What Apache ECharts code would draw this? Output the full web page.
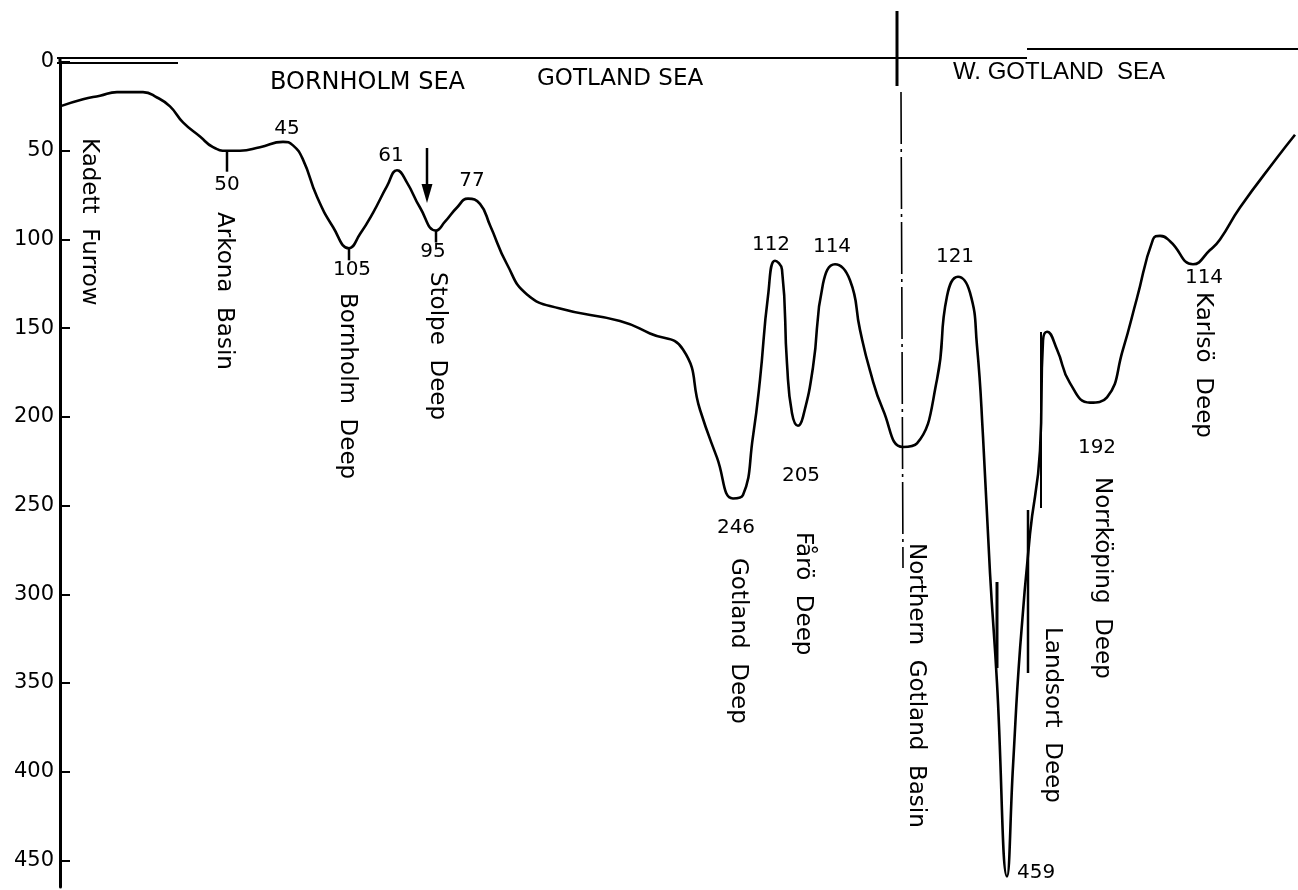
<!DOCTYPE html>
<html>
<head>
<meta charset="utf-8">
<title>Depth profile of the Baltic Proper</title>
<script src="https://cdn.jsdelivr.net/npm/echarts@6/dist/echarts.min.js"></script>
<style>
  html, body { margin: 0; padding: 0; background: #fff; }
  #chart { width: 1298px; height: 890px; }
</style>
</head>
<body>
<div id="chart"></div>
<script>
// Section from the Kadett Furrow to the Western Gotland Sea.
// distance: position along the section (arbitrary units), depth: metres.
const distance = [0, 23, 40, 57, 83, 97, 110, 123, 140, 153, 167, 180, 200, 223, 233, 243, 257, 273, 289, 300,
  313, 327, 337, 347, 360, 376, 385, 397, 408, 420, 430, 447, 467, 500, 560, 590, 623, 640, 657, 673,
  683, 693, 700, 708, 715, 722, 727, 732, 738, 743, 753, 763, 775, 790, 800, 810, 823, 843, 857, 877,
  887, 898, 910, 917, 923, 930, 937, 947, 953, 960, 970, 980, 983, 987, 997, 1010, 1030, 1047, 1063, 1077,
  1093, 1100, 1110, 1133, 1150, 1160, 1180, 1217, 1235];
const depth = [25, 21, 19, 17, 17, 20, 25, 34, 42, 48, 50, 50, 48, 45, 47, 55, 76, 93, 105, 97,
  85, 70, 61, 68, 82, 95, 90, 82, 77, 80, 92, 114, 131, 139, 146, 153, 162, 196, 223, 246,
  244, 211, 179, 132, 112, 117, 170, 198, 205, 200, 172, 125, 114, 123, 151, 174, 196, 217, 215, 179,
  132, 121, 130, 160, 211, 288, 350, 459, 397, 331, 266, 219, 157, 152, 162, 181, 192, 189, 162, 133,
  100, 98, 101, 114, 106, 100, 82, 54, 41];

// Sill and deep soundings whose depth is printed on the profile
const soundingAt = [167, 223, 289, 337, 376, 408, 673, 715, 738, 775, 898, 947, 1030, 1133];

// Depth axis ticks (m)
const depthTicks = [0, 50, 100, 150, 200, 250, 300, 350, 400, 450];

// Basin and deep names, written down the profile
const basinNames = ['Kadett  Furrow', 'Arkona  Basin', 'Bornholm  Deep', 'Stolpe  Deep', 'Gotland  Deep',
  'Fårö  Deep', 'Northern  Gotland  Basin', 'Landsort  Deep', 'Norrköping  Deep', 'Karlsö  Deep'];

// Sea areas along the top
const seaNames = ['BORNHOLM SEA', 'GOTLAND SEA', 'W. GOTLAND  SEA'];

const TEXT_FONT = '"DejaVu Sans", sans-serif';

// label placement for the printed soundings
const soundingLabel = {
  167: { position: 'bottom', distance: 24, offset: [0, 0] },
  223: { position: 'top', distance: 3, offset: [4, 0] },
  289: { position: 'bottom', distance: 12, offset: [3, 0] },
  337: { position: 'top', distance: 4, offset: [-6, 0] },
  376: { position: 'bottom', distance: 11, offset: [-3, 0] },
  408: { position: 'top', distance: 8, offset: [4, 0] },
  673: { position: 'bottom', distance: 19, offset: [3, 0] },
  715: { position: 'top', distance: 6, offset: [-4, 0] },
  738: { position: 'bottom', distance: 40, offset: [3, 0] },
  775: { position: 'top', distance: 7, offset: [-3, 0] },
  898: { position: 'top', distance: 10, offset: [-3, 0] },
  947: { position: 'right', distance: 10, offset: [0, -4] },
  1030: { position: 'bottom', distance: 35, offset: [7, 0] },
  1133: { position: 'bottom', distance: 4, offset: [11, 0] }
};

const profile = distance.map((d, i) => [d, depth[i]]);
const soundings = soundingAt.map(d => {
  const p = soundingLabel[d];
  return {
    value: [d, depth[distance.indexOf(d)]],
    label: { position: p.position, distance: p.distance, offset: p.offset }
  };
});

const chart = echarts.init(document.getElementById('chart'), null, { renderer: 'canvas' });

chart.setOption({
  animation: false,
  backgroundColor: '#fff',
  grid: { left: 60, right: 0, top: 62, bottom: 3 },
  xAxis: { type: 'value', min: 0, max: 1238, show: false },
  yAxis: {
    type: 'value', inverse: true, min: 0, max: 465, interval: 50,
    axisLine: { show: true, lineStyle: { color: '#000', width: 3 } },
    axisTick: { show: true, inside: true, length: 10, customValues: depthTicks,
      lineStyle: { color: '#000', width: 2 } },
    axisLabel: { color: '#000', fontSize: 21, fontFamily: TEXT_FONT, margin: 6, customValues: depthTicks },
    splitLine: { show: false }
  },
  series: [
    {
      type: 'line', data: profile, showSymbol: false, silent: true,
      smooth: 0.5,
      lineStyle: { color: '#000', width: 2.6 }
    },
    {
      type: 'scatter', data: soundings, symbolSize: 0, silent: true,
      itemStyle: { opacity: 1 },
      label: { show: true, color: '#000', fontSize: 20, fontFamily: TEXT_FONT,
        formatter: p => String(p.value[1]) }
    }
  ]
});

// decorations: frame lines, section divider, pointers and names
const px = (d, z) => chart.convertToPixel({ gridIndex: 0 }, [d, z]);
const line = (x1, y1, x2, y2, w, dash) => ({
  type: 'line', silent: true,
  shape: { x1, y1, x2, y2 },
  style: { stroke: '#000', lineWidth: w, lineDash: dash || null }
});
const g = [];

// top border of the section
g.push(line(57, 58, 1027, 58, 2));
g.push(line(1027, 49, 1298, 49, 2));
g.push(line(57, 63, 178, 63, 2));
g.push(line(60, 57, 60, 64, 3));

// boundary between Gotland Sea and Western Gotland Sea
g.push(line(897, 11, 897, 86, 3));
g.push(line(901, 92, 903, 568, 1.6, [52, 5, 3, 5]));

// ticks beneath the Arkona, Bornholm and Stolpe soundings
[[167, 21], [289, 12], [376, 12]].forEach(([d, len]) => {
  const p = px(d, depth[distance.indexOf(d)]);
  g.push(line(p[0], p[1], p[0], p[1] + len, 2.5));
});

// arrow above the Stolpe Channel
g.push(line(427, 148, 427, 190, 2.5));
g.push({ type: 'polygon', silent: true, shape: { points: [[421.5, 184], [432.5, 184], [427, 203]] },
  style: { fill: '#000' } });

// Landsort Deep marks
g.push(line(997, 582, 997, 668, 3));
g.push(line(1028, 510, 1028, 673, 2.5));
g.push(line(1041, 332, 1041, 508, 2));

// basin names (x centre line, y start)
const namePos = [[89, 138], [224, 212], [347, 293], [437, 272], [738, 558], [803, 532], [916, 543],
  [1052, 627], [1102, 477], [1203, 292]];
basinNames.forEach((t, i) => {
  g.push({
    type: 'text', silent: true, x: namePos[i][0], y: namePos[i][1], rotation: -Math.PI / 2,
    style: { text: t, fill: '#000', font: '23px ' + TEXT_FONT, align: 'left', verticalAlign: 'middle' }
  });
});

// sea areas
const seaPos = [[270, 83, TEXT_FONT, 24], [537, 79, TEXT_FONT, 23], [953, 72, '"Liberation Sans", Arial, sans-serif', 24]];
seaNames.forEach((t, i) => {
  g.push({
    type: 'text', silent: true, x: seaPos[i][0], y: seaPos[i][1],
    style: { text: t, fill: '#000', font: seaPos[i][3] + 'px ' + seaPos[i][2], align: 'left', verticalAlign: 'middle' }
  });
});

chart.setOption({ graphic: { elements: g } });
</script>
</body>
</html>
